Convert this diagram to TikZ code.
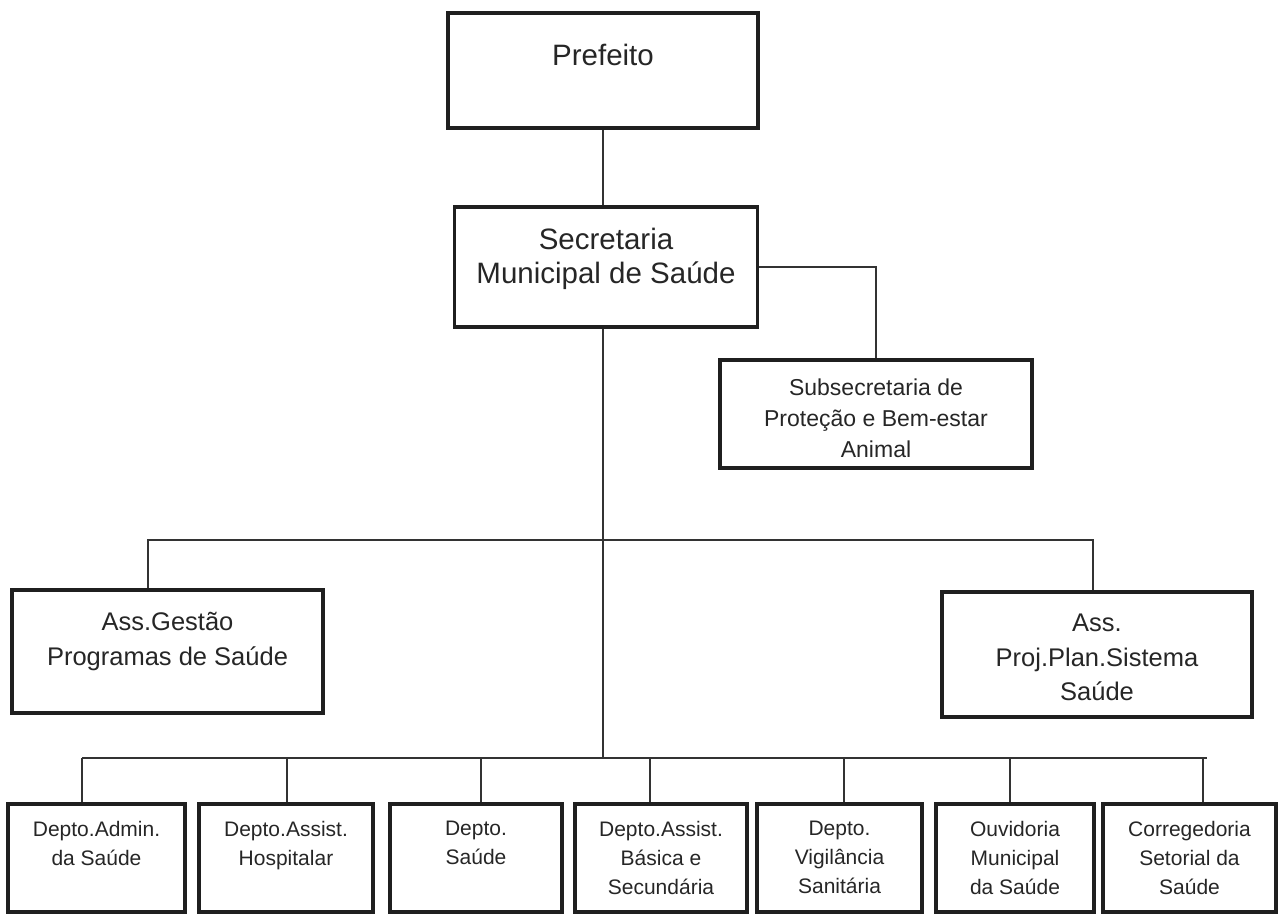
\documentclass[tikz,border=0pt]{standalone}
\usepackage{fontspec}
\setmainfont{Liberation Sans}
\usetikzlibrary{positioning,calc}

\tikzset{
  unit/.style 2 args={draw=black!88, line width=3.6pt, minimum width=#1, minimum height=#2, inner sep=0pt},
  caption/.style={anchor=north, align=center, inner sep=0pt, text=black!85},
  link/.style={draw=black!80, line width=1.4pt},
}
\newcommand{\fbig}{\fontsize{29.5}{34}\selectfont}
\newcommand{\fmid}{\fontsize{25.5}{34.5}\selectfont}
\newcommand{\fsub}{\fontsize{23}{31}\selectfont}
\newcommand{\fsmall}{\fontsize{21}{29}\selectfont}

\begin{document}
\begin{tikzpicture}[x=1pt,y=-1pt]
\useasboundingbox (0,0) rectangle (1285,914);
% top of the chart
\node[unit={310pt}{115pt}, label={[caption,yshift=-33pt,font=\fbig]north:Prefeito}] (pref) at (603,70.5) {};
\node[unit={303pt}{120pt}, label={[caption,yshift=-22.5pt,font=\fbig]north:Secretaria\\Municipal de Saúde}] (sec) at (606,267) {};
\node[unit={312pt}{108pt}, label={[caption,yshift=-20pt,font=\fsub]north:Subsecretaria de\\Proteção e Bem-estar\\Animal}] (sub) at (876,414) {};
\node[unit={311pt}{123pt}, label={[caption,yshift=-24pt,font=\fmid]north:Ass.Gestão\\Programas de Saúde}] (gest) at (167.5,651.5) {};
\node[unit={310pt}{125pt}, label={[caption,yshift=-24pt,font=\fmid]north:Ass.\\Proj.Plan.Sistema\\Saúde}] (proj) at (1097,654.5) {};

\draw[link] (pref.south) -- (pref.south |- sec.north);
\draw[link] (sec.east) -| (sub.north);

% buses
\coordinate (busA) at (pref.south |- 0,540);
\coordinate (busB) at (pref.south |- 0,758);
\draw[link] (pref.south |- sec.south) -- (busB);
\draw[link] ([xshift=-19.5pt]gest.north) -- ([xshift=-19.5pt]gest.north |- busA) -- ([xshift=-4pt]proj.north |- busA) -- ([xshift=-4pt]proj.north);

% departments
\foreach \name/\cx/\w/\dx/\txt in {
    d1/96.5/177/-14.5/{Depto.Admin.\\da Saúde},
    d2/286/174/1/{Depto.Assist.\\Hospitalar},
    d3/476/172/5/{Depto.\\Saúde},
    d4/661/172/-11/{Depto.Assist.\\Básica e\\Secundária},
    d5/839.5/165/4.5/{Depto.\\Vigilância\\Sanitária},
    d6/1015/158/-5/{Ouvidoria\\Municipal\\da Saúde},
    d7/1189.5/173/13.5/{Corregedoria\\Setorial da\\Saúde}}
{
    \node[unit={\w pt}{108pt}, label={[caption,yshift=-18.5pt,font=\fsmall]north:\txt}] (\name) at (\cx,858) {};
    \draw[link] ([xshift=\dx pt]\name.north) -- ([xshift=\dx pt]\name.north |- busB);
}
\draw[link] ([xshift=-14.5pt]d1.north |- busB) -- ([xshift=17.5pt]d7.north |- busB);
\end{tikzpicture}
\end{document}
